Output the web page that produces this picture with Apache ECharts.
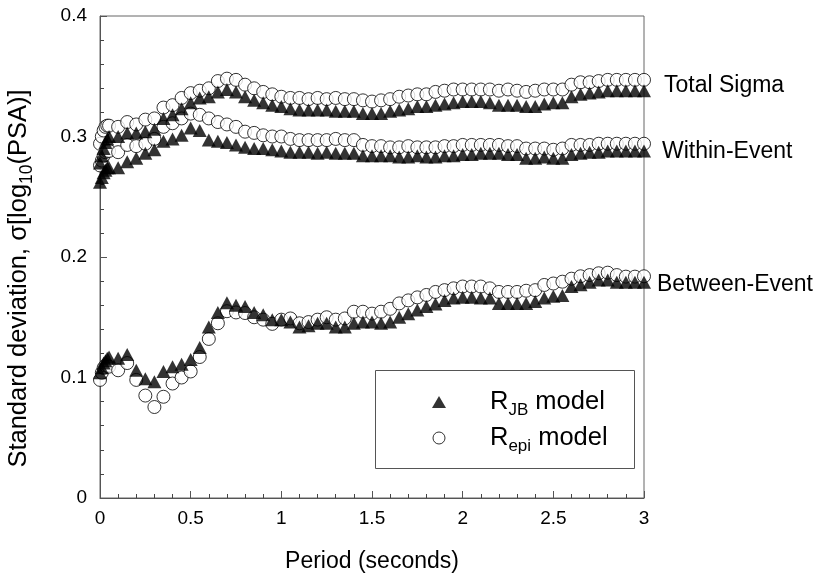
<!DOCTYPE html>
<html>
<head>
<meta charset="utf-8">
<script src="https://cdn.jsdelivr.net/npm/echarts@6/dist/echarts.min.js"></script>
<style>html,body{margin:0;padding:0;background:#fff}#c{width:816px;height:573px}</style>
</head>
<body>
<div id="c"></div>
<script>
var periods = [0,0.01,0.02,0.03,0.04,0.05,
  0.1,0.15,0.2,0.25,0.3,0.35,0.4,0.45,0.5,0.55,0.6,0.65,0.7,0.75,0.8,0.85,0.9,0.95,1.0,1.05,
  1.1,1.15,1.2,1.25,1.3,1.35,1.4,1.45,1.5,1.55,
  1.6,1.65,1.7,1.75,1.8,1.85,1.9,1.95,2.0,2.05,
  2.1,2.15,2.2,2.25,2.3,2.35,2.4,2.45,2.5,2.55,
  2.6,2.65,2.7,2.75,2.8,2.85,2.9,2.95,3.0];

var totalRjb = [0.278,0.284,0.290,0.295,0.298,0.300,
  0.300,0.303,0.303,0.304,0.306,0.315,0.318,0.323,0.328,0.332,0.333,0.337,0.339,0.337,0.333,0.330,0.328,0.326,0.325,0.323,
  0.322,0.322,0.322,0.322,0.321,0.321,0.321,0.319,0.319,0.319,
  0.321,0.322,0.323,0.325,0.325,0.326,0.327,0.328,0.329,0.329,
  0.329,0.328,0.326,0.326,0.326,0.325,0.325,0.327,0.328,0.328,
  0.333,0.335,0.336,0.337,0.338,0.338,0.338,0.338,0.338];
var totalRepi = [0.294,0.300,0.305,0.308,0.309,0.309,
  0.308,0.312,0.310,0.314,0.315,0.324,0.326,0.332,0.336,0.338,0.340,0.346,0.348,0.347,0.343,0.340,0.337,0.335,0.333,0.332,
  0.332,0.331,0.332,0.331,0.332,0.331,0.331,0.330,0.329,0.330,
  0.331,0.333,0.334,0.335,0.335,0.337,0.338,0.339,0.339,0.339,
  0.339,0.339,0.338,0.339,0.338,0.337,0.338,0.339,0.339,0.339,
  0.343,0.345,0.345,0.346,0.347,0.347,0.347,0.347,0.347];
var withinRjb = [0.262,0.266,0.270,0.272,0.274,0.274,
  0.274,0.279,0.282,0.286,0.289,0.296,0.298,0.301,0.307,0.305,0.297,0.296,0.295,0.293,0.291,0.290,0.290,0.289,0.288,0.287,
  0.287,0.287,0.286,0.287,0.286,0.286,0.286,0.284,0.284,0.284,
  0.284,0.283,0.283,0.284,0.283,0.283,0.284,0.284,0.285,0.285,
  0.286,0.286,0.286,0.285,0.285,0.282,0.282,0.283,0.282,0.282,
  0.285,0.286,0.287,0.287,0.288,0.288,0.288,0.288,0.288];
var withinRepi = [0.276,0.280,0.284,0.287,0.288,0.288,
  0.287,0.293,0.292,0.294,0.298,0.308,0.311,0.315,0.319,0.318,0.315,0.312,0.310,0.308,0.304,0.303,0.301,0.300,0.300,0.298,
  0.297,0.297,0.297,0.297,0.298,0.297,0.297,0.293,0.292,0.292,
  0.291,0.291,0.292,0.291,0.291,0.291,0.292,0.292,0.293,0.293,
  0.293,0.293,0.293,0.292,0.292,0.290,0.290,0.290,0.289,0.290,
  0.293,0.293,0.293,0.294,0.294,0.294,0.294,0.294,0.294];
var betweenRjb = [0.104,0.108,0.112,0.114,0.116,0.117,
  0.116,0.119,0.106,0.099,0.0965,0.105,0.109,0.111,0.115,0.125,0.142,0.154,0.162,0.160,0.159,0.154,0.152,0.148,0.148,0.146,
  0.142,0.143,0.145,0.145,0.142,0.142,0.145,0.146,0.146,0.145,
  0.146,0.150,0.153,0.156,0.159,0.161,0.164,0.166,0.1665,0.1665,
  0.166,0.166,0.1615,0.1615,0.1615,0.1615,0.163,0.166,0.1675,0.168,
  0.1755,0.177,0.179,0.181,0.181,0.179,0.179,0.179,0.179];
var betweenRepi = [0.098,0.104,0.108,0.110,0.110,0.109,
  0.106,0.112,0.098,0.085,0.0755,0.084,0.095,0.100,0.105,0.117,0.132,0.145,0.155,0.154,0.1535,0.150,0.148,0.1445,0.148,0.149,
  0.145,0.146,0.148,0.150,0.148,0.149,0.1546,0.1546,0.153,0.1546,
  0.157,0.1615,0.164,0.1665,0.1685,0.171,0.1725,0.174,0.1755,0.1755,
  0.1755,0.174,0.171,0.171,0.171,0.172,0.1725,0.1768,0.178,0.1795,
  0.182,0.184,0.185,0.1865,0.187,0.185,0.1837,0.1837,0.184];

var xTickLabels = ['0','0.5','1','1.5','2','2.5','3'];
var yTickLabels = ['0','0.1','0.2','0.3','0.4'];
var groupLabels = ['Total Sigma','Within-Event','Between-Event'];

var FONT = '"Liberation Sans", Arial, Helvetica, sans-serif';

function pairs(ys) { return periods.map(function (t, i) { return [t, ys[i]]; }); }

var circleStyle = { color: '#fff', borderColor: '#000', borderWidth: 1 };
var triStyle = { color: '#000' };

function circleSeries(ys) {
  return { name: 'repi', type: 'scatter', data: pairs(ys), symbol: 'circle', symbolSize: 13,
    itemStyle: circleStyle, z: 2, silent: true };
}
function triSeries(ys) {
  return { name: 'rjb', type: 'scatter', data: pairs(ys), symbol: 'triangle', symbolSize: [14, 13],
    itemStyle: triStyle, z: 3, silent: true };
}

var chart = echarts.init(document.getElementById('c'), null, { renderer: 'canvas' });
chart.setOption({
  animation: false,
  backgroundColor: '#fff',
  grid: { left: 100, top: 16, right: 172, bottom: 75, outerBoundsMode: 'none', containLabel: false,
    show: true, borderColor: '#666', borderWidth: 1, backgroundColor: 'transparent' },
  xAxis: {
    type: 'value', min: 0, max: 3, interval: 0.5,
    name: 'Period (seconds)', nameLocation: 'middle', nameGap: 52,
    nameTextStyle: { fontFamily: FONT, fontSize: 23, color: '#000' },
    axisLine: { show: true, lineStyle: { color: '#555', width: 1 } },
    axisTick: { show: true, inside: true, length: 7, lineStyle: { color: '#555' } },
    minorTick: { show: true, splitNumber: 5, length: 4, lineStyle: { color: '#444', width: 1 } },
    splitLine: { show: false },
    axisLabel: { fontFamily: FONT, fontSize: 19, color: '#000', margin: 11,
      formatter: function (v) { return xTickLabels[Math.round(v / 0.5)]; } }
  },
  yAxis: {
    type: 'value', min: 0, max: 0.4, interval: 0.1,
    name: 'Standard deviation, σ[log{s|10}(PSA)]', nameLocation: 'middle', nameGap: 64,
    nameTextStyle: { fontFamily: FONT, fontSize: 25.5, color: '#000', padding: [0, 43, 0, 0],
      rich: { s: { fontFamily: FONT, fontSize: 17.5, color: '#000', padding: [16, 0, 0, 0] } } },
    axisLine: { show: true, lineStyle: { color: '#555', width: 1 } },
    axisTick: { show: true, inside: true, length: 7, lineStyle: { color: '#555' } },
    minorTick: { show: true, splitNumber: 5, length: 4, lineStyle: { color: '#444', width: 1 } },
    splitLine: { show: false },
    axisLabel: { fontFamily: FONT, fontSize: 19, color: '#000', margin: 13,
      formatter: function (v) { return yTickLabels[Math.round(v / 0.1)]; } }
  },
  legend: {
    orient: 'vertical', left: 427, top: 384, itemWidth: 14, itemHeight: 12, itemGap: 6,
    selectedMode: false,
    data: [
      { name: 'rjb', icon: 'triangle', itemStyle: { color: '#000', borderWidth: 0 } },
      { name: 'repi', icon: 'circle', itemStyle: { color: '#fff', borderColor: '#000', borderWidth: 1 } }
    ],
    formatter: function (n) { return n === 'rjb' ? '{r|R}{s|JB}{r| model}' : '{r|R}{s|epi}{r| model}'; },
    textStyle: { padding: [0, 0, 0, 39], rich: {
      r: { fontFamily: FONT, fontSize: 25.5, color: '#000' },
      s: { fontFamily: FONT, fontSize: 17, color: '#000', padding: [17, 0, 0, 0] }
    } }
  },
  graphic: [
    { type: 'rect', left: 375, top: 370, shape: { width: 259, height: 98 }, style: { fill: 'transparent', stroke: '#555', lineWidth: 1 }, silent: true, z: 1 },
    { type: 'text', left: 664, top: 74, style: { text: groupLabels[0], font: '23px ' + FONT, fill: '#000' } },
    { type: 'text', left: 662, top: 140, style: { text: groupLabels[1], font: '23px ' + FONT, fill: '#000' } },
    { type: 'text', left: 657, top: 273, style: { text: groupLabels[2], font: '23px ' + FONT, fill: '#000' } }
  ],
  series: [
    circleSeries(totalRepi), circleSeries(withinRepi), circleSeries(betweenRepi),
    triSeries(totalRjb), triSeries(withinRjb), triSeries(betweenRjb)
  ]
});
</script>
</body>
</html>
